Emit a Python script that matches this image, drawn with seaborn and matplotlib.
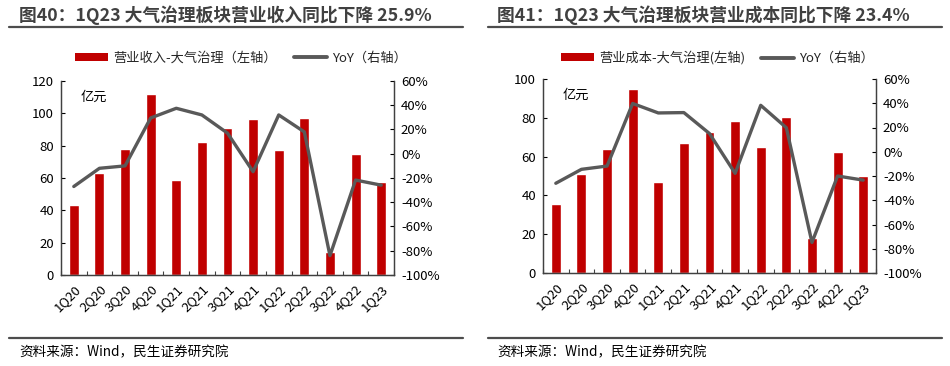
"""Two dual-axis charts: air-pollution-control segment revenue / cost with YoY"""

import numpy as np
import pandas as pd
import matplotlib
matplotlib.use('Agg')
import matplotlib.pyplot as plt
import seaborn as sns
from matplotlib.patches import Patch
from matplotlib.lines import Line2D

sns.set_theme(style='white')
plt.rcParams['font.family'] = ['Noto Sans CJK SC', 'DejaVu Sans']
plt.rcParams['axes.unicode_minus'] = False

# Data
quarters = ['1Q20', '2Q20', '3Q20', '4Q20', '1Q21', '2Q21', '3Q21',
            '4Q21', '1Q22', '2Q22', '3Q22', '4Q22', '1Q23']

revenue = [43, 63, 78, 112, 59, 82.5, 91, 96.5, 77.5, 97, 14.5, 75, 57.5]
revenue_yoy = [-27, -12, -10, 29.5, 37.5, 32, 17, -14.8, 32, 18, -84, -21.7, -25.9]

cost = [35.7, 51, 63.8, 95, 47, 67.2, 72.8, 78.2, 65, 80.2, 18.2, 62.4, 49.9]
cost_yoy = [-26, -14.5, -11.8, 39.8, 32, 32.3, 15, -17.8, 38.3, 19.8, -74.8, -20, -23.4]

titles = ['图40：1Q23 大气治理板块营业收入同比下降 25.9%',
          '图41：1Q23 大气治理板块营业成本同比下降 23.4%']
bar_labels = ['营业收入-大气治理（左轴）', '营业成本-大气治理(左轴)']
line_label = 'YoY（右轴）'
source_text = '资料来源：Wind，民生证券研究院'

BAR_RED = '#C00000'
LINE_GREY = '#595959'
TEXT_GREY = '#404040'
FS = 9.5

W, H = 950, 366
fig = plt.figure(figsize=(9.5, 3.66), dpi=100)


def fx(px):
    return px / W


def fy(py):
    return 1 - py / H


panels = [
    dict(bars=revenue, yoy=revenue_yoy, ymax=120, ystep=20,
         box=(61, 81, 394, 275), x0=9, x1=463, title_x=19, leg_x=75, leg_gap=1.3),
    dict(bars=cost, yoy=cost_yoy, ymax=100, ystep=20,
         box=(543, 79, 876, 273), x0=488, x1=942, title_x=497, leg_x=561, leg_gap=1.2),
]

for i, p in enumerate(panels):
    l, t, r, b = p['box']
    ax = fig.add_axes([fx(l), fy(b), fx(r - l), (b - t) / H])
    df = pd.DataFrame({'quarter': quarters, 'value': p['bars']})
    sns.barplot(data=df, x='quarter', y='value', color=BAR_RED, width=0.39,
                saturation=1, ax=ax)
    ax.set_xlim(-0.5, len(quarters) - 0.5)
    ax.set_ylim(0, p['ymax'])
    ax.set_yticks(np.arange(0, p['ymax'] + 1, p['ystep']))
    ax.set_xlabel('')
    ax.set_ylabel('')
    ax.set_xticks(np.arange(len(quarters)))
    ax.set_xticklabels(quarters, rotation=45, ha='right', rotation_mode='anchor')
    ax.set_xticks(np.arange(len(quarters) + 1) - 0.5, minor=True)
    ax.tick_params(axis='x', which='major', length=0, pad=5, labelsize=FS, colors='black')
    ax.tick_params(axis='x', which='minor', direction='in', length=3, width=0.8,
                   color='#404040', bottom=True)
    ax.tick_params(axis='y', direction='in', length=3, width=0.8, left=True,
                   labelsize=FS, pad=5, colors='black')
    ax.text(0.06, 0.95, '亿元', transform=ax.transAxes, ha='left', va='top',
            fontsize=FS, color='black')

    ax2 = ax.twinx()
    sns.lineplot(x=np.arange(len(quarters)), y=p['yoy'], color=LINE_GREY,
                 linewidth=2.4, ax=ax2)
    ax2.set_ylim(-100, 60)
    ax2.set_yticks(np.arange(-100, 61, 20))
    ax2.set_yticklabels([f'{v}%' for v in range(-100, 61, 20)])
    ax2.tick_params(axis='y', direction='in', length=3, width=0.8, right=True,
                    labelsize=FS, pad=5, colors='black')
    ax2.set_xlim(-0.5, len(quarters) - 0.5)

    for a in (ax, ax2):
        a.grid(False)
        a.spines['top'].set_visible(False)
        for s in ('left', 'right', 'bottom'):
            a.spines[s].set_color('#404040')
            a.spines[s].set_linewidth(0.9)

    # title + rules
    fig.text(fx(p['title_x']), fy(15), titles[i], ha='left', va='center',
             fontsize=12.8, fontweight='bold', color=TEXT_GREY)
    fig.add_artist(Line2D([fx(p['x0']), fx(p['x1'])], [fy(26.5), fy(26.5)],
                          color='#4d4d4d', linewidth=1.6))
    fig.add_artist(Line2D([fx(p['x0']), fx(p['x1'])], [fy(338), fy(338)],
                          color='#4d4d4d', linewidth=1.6))
    fig.text(fx(p['title_x']), fy(352), source_text, ha='left', va='center',
             fontsize=9.8, color='black')

    handles = [Patch(facecolor=BAR_RED, edgecolor='none'),
               Line2D([0], [0], color=LINE_GREY, linewidth=2.8)]
    fig.legend(handles, [bar_labels[i], line_label], loc='center left',
               bbox_to_anchor=(fx(p['leg_x']), fy(58)), ncol=2, frameon=False,
               fontsize=FS, handlelength=2.5, handleheight=0.6, handletextpad=0.4,
               columnspacing=p['leg_gap'], borderaxespad=0, borderpad=0)

fig.savefig('out.png', dpi=100)
